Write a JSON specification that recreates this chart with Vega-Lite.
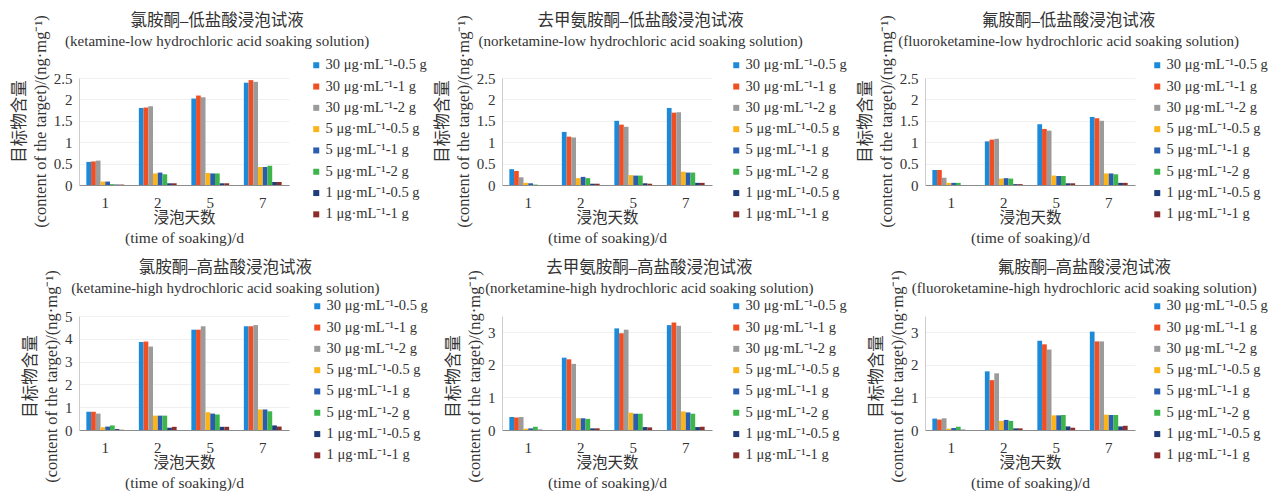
{
  "$schema": "https://vega.github.io/schema/vega-lite/v6.json",
  "background": "white",
  "padding": {"left": 11, "top": 13, "right": 0, "bottom": 0},
  "config": {
    "font": "Liberation Serif, Noto Sans CJK SC",
    "view": {"stroke": null},
    "title": {"font": "Liberation Serif, Noto Sans CJK SC", "fontSize": 16.5, "fontWeight": "normal", "color": "#333333", "subtitleFont": "Liberation Serif, Noto Sans CJK SC", "subtitleFontSize": 15, "subtitleColor": "#333333", "subtitlePadding": 4, "frame": "bounds", "anchor": "middle"},
    "axis": {"labelFont": "Liberation Serif, Noto Sans CJK SC", "labelFontSize": 15, "labelColor": "#333333", "titleFont": "Liberation Serif, Noto Sans CJK SC", "titleFontSize": 15.5, "titleFontWeight": "normal", "titleColor": "#333333", "ticks": false, "gridColor": "#f0f0f0", "titleLineHeight": 20},
    "axisX": {"grid": false, "labelPadding": 10, "titlePadding": 0, "domainColor": "#8c8c8c", "labelAngle": 0},
    "axisY": {"grid": true, "labelPadding": 7, "titlePadding": 5, "domainColor": "#cccccc", "titleFontSize": 16.5, "titleLineHeight": 21},
    "legend": {"symbolType": "square", "symbolSize": 36, "symbolStrokeWidth": 0, "labelFont": "Liberation Serif, Noto Sans CJK SC", "labelFontSize": 14.5, "labelColor": "#333333", "rowPadding": 6.3, "labelOffset": 2, "padding": 0, "title": null, "labelLimit": 200}
  },
  "data": {"values": [
    {"panel":1,"day":"1","series":"30 μg·mL⁻¹-0.5 g","value":0.54},{"panel":1,"day":"1","series":"30 μg·mL⁻¹-1 g","value":0.55},{"panel":1,"day":"1","series":"30 μg·mL⁻¹-2 g","value":0.57},{"panel":1,"day":"1","series":"5 μg·mL⁻¹-0.5 g","value":0.08},{"panel":1,"day":"1","series":"5 μg·mL⁻¹-1 g","value":0.08},{"panel":1,"day":"1","series":"5 μg·mL⁻¹-2 g","value":0.02},{"panel":1,"day":"1","series":"1 μg·mL⁻¹-0.5 g","value":0.01},{"panel":1,"day":"1","series":"1 μg·mL⁻¹-1 g","value":0.01},
    {"panel":1,"day":"2","series":"30 μg·mL⁻¹-0.5 g","value":1.80},{"panel":1,"day":"2","series":"30 μg·mL⁻¹-1 g","value":1.81},{"panel":1,"day":"2","series":"30 μg·mL⁻¹-2 g","value":1.84},{"panel":1,"day":"2","series":"5 μg·mL⁻¹-0.5 g","value":0.27},{"panel":1,"day":"2","series":"5 μg·mL⁻¹-1 g","value":0.29},{"panel":1,"day":"2","series":"5 μg·mL⁻¹-2 g","value":0.25},{"panel":1,"day":"2","series":"1 μg·mL⁻¹-0.5 g","value":0.04},{"panel":1,"day":"2","series":"1 μg·mL⁻¹-1 g","value":0.04},
    {"panel":1,"day":"5","series":"30 μg·mL⁻¹-0.5 g","value":2.02},{"panel":1,"day":"5","series":"30 μg·mL⁻¹-1 g","value":2.09},{"panel":1,"day":"5","series":"30 μg·mL⁻¹-2 g","value":2.05},{"panel":1,"day":"5","series":"5 μg·mL⁻¹-0.5 g","value":0.28},{"panel":1,"day":"5","series":"5 μg·mL⁻¹-1 g","value":0.27},{"panel":1,"day":"5","series":"5 μg·mL⁻¹-2 g","value":0.27},{"panel":1,"day":"5","series":"1 μg·mL⁻¹-0.5 g","value":0.04},{"panel":1,"day":"5","series":"1 μg·mL⁻¹-1 g","value":0.04},
    {"panel":1,"day":"7","series":"30 μg·mL⁻¹-0.5 g","value":2.39},{"panel":1,"day":"7","series":"30 μg·mL⁻¹-1 g","value":2.45},{"panel":1,"day":"7","series":"30 μg·mL⁻¹-2 g","value":2.41},{"panel":1,"day":"7","series":"5 μg·mL⁻¹-0.5 g","value":0.42},{"panel":1,"day":"7","series":"5 μg·mL⁻¹-1 g","value":0.42},{"panel":1,"day":"7","series":"5 μg·mL⁻¹-2 g","value":0.45},{"panel":1,"day":"7","series":"1 μg·mL⁻¹-0.5 g","value":0.07},{"panel":1,"day":"7","series":"1 μg·mL⁻¹-1 g","value":0.07},
    {"panel":2,"day":"1","series":"30 μg·mL⁻¹-0.5 g","value":0.37},{"panel":2,"day":"1","series":"30 μg·mL⁻¹-1 g","value":0.33},{"panel":2,"day":"1","series":"30 μg·mL⁻¹-2 g","value":0.18},{"panel":2,"day":"1","series":"5 μg·mL⁻¹-0.5 g","value":0.05},{"panel":2,"day":"1","series":"5 μg·mL⁻¹-1 g","value":0.04},{"panel":2,"day":"1","series":"5 μg·mL⁻¹-2 g","value":0.01},{"panel":2,"day":"1","series":"1 μg·mL⁻¹-0.5 g","value":0.0},{"panel":2,"day":"1","series":"1 μg·mL⁻¹-1 g","value":0.0},
    {"panel":2,"day":"2","series":"30 μg·mL⁻¹-0.5 g","value":1.24},{"panel":2,"day":"2","series":"30 μg·mL⁻¹-1 g","value":1.13},{"panel":2,"day":"2","series":"30 μg·mL⁻¹-2 g","value":1.11},{"panel":2,"day":"2","series":"5 μg·mL⁻¹-0.5 g","value":0.16},{"panel":2,"day":"2","series":"5 μg·mL⁻¹-1 g","value":0.19},{"panel":2,"day":"2","series":"5 μg·mL⁻¹-2 g","value":0.16},{"panel":2,"day":"2","series":"1 μg·mL⁻¹-0.5 g","value":0.03},{"panel":2,"day":"2","series":"1 μg·mL⁻¹-1 g","value":0.03},
    {"panel":2,"day":"5","series":"30 μg·mL⁻¹-0.5 g","value":1.50},{"panel":2,"day":"5","series":"30 μg·mL⁻¹-1 g","value":1.41},{"panel":2,"day":"5","series":"30 μg·mL⁻¹-2 g","value":1.36},{"panel":2,"day":"5","series":"5 μg·mL⁻¹-0.5 g","value":0.23},{"panel":2,"day":"5","series":"5 μg·mL⁻¹-1 g","value":0.22},{"panel":2,"day":"5","series":"5 μg·mL⁻¹-2 g","value":0.22},{"panel":2,"day":"5","series":"1 μg·mL⁻¹-0.5 g","value":0.04},{"panel":2,"day":"5","series":"1 μg·mL⁻¹-1 g","value":0.03},
    {"panel":2,"day":"7","series":"30 μg·mL⁻¹-0.5 g","value":1.80},{"panel":2,"day":"7","series":"30 μg·mL⁻¹-1 g","value":1.69},{"panel":2,"day":"7","series":"30 μg·mL⁻¹-2 g","value":1.70},{"panel":2,"day":"7","series":"5 μg·mL⁻¹-0.5 g","value":0.31},{"panel":2,"day":"7","series":"5 μg·mL⁻¹-1 g","value":0.29},{"panel":2,"day":"7","series":"5 μg·mL⁻¹-2 g","value":0.29},{"panel":2,"day":"7","series":"1 μg·mL⁻¹-0.5 g","value":0.05},{"panel":2,"day":"7","series":"1 μg·mL⁻¹-1 g","value":0.05},
    {"panel":3,"day":"1","series":"30 μg·mL⁻¹-0.5 g","value":0.35},{"panel":3,"day":"1","series":"30 μg·mL⁻¹-1 g","value":0.35},{"panel":3,"day":"1","series":"30 μg·mL⁻¹-2 g","value":0.17},{"panel":3,"day":"1","series":"5 μg·mL⁻¹-0.5 g","value":0.05},{"panel":3,"day":"1","series":"5 μg·mL⁻¹-1 g","value":0.05},{"panel":3,"day":"1","series":"5 μg·mL⁻¹-2 g","value":0.05},{"panel":3,"day":"1","series":"1 μg·mL⁻¹-0.5 g","value":0.0},{"panel":3,"day":"1","series":"1 μg·mL⁻¹-1 g","value":0.0},
    {"panel":3,"day":"2","series":"30 μg·mL⁻¹-0.5 g","value":1.02},{"panel":3,"day":"2","series":"30 μg·mL⁻¹-1 g","value":1.06},{"panel":3,"day":"2","series":"30 μg·mL⁻¹-2 g","value":1.08},{"panel":3,"day":"2","series":"5 μg·mL⁻¹-0.5 g","value":0.15},{"panel":3,"day":"2","series":"5 μg·mL⁻¹-1 g","value":0.16},{"panel":3,"day":"2","series":"5 μg·mL⁻¹-2 g","value":0.15},{"panel":3,"day":"2","series":"1 μg·mL⁻¹-0.5 g","value":0.02},{"panel":3,"day":"2","series":"1 μg·mL⁻¹-1 g","value":0.02},
    {"panel":3,"day":"5","series":"30 μg·mL⁻¹-0.5 g","value":1.42},{"panel":3,"day":"5","series":"30 μg·mL⁻¹-1 g","value":1.31},{"panel":3,"day":"5","series":"30 μg·mL⁻¹-2 g","value":1.27},{"panel":3,"day":"5","series":"5 μg·mL⁻¹-0.5 g","value":0.22},{"panel":3,"day":"5","series":"5 μg·mL⁻¹-1 g","value":0.21},{"panel":3,"day":"5","series":"5 μg·mL⁻¹-2 g","value":0.21},{"panel":3,"day":"5","series":"1 μg·mL⁻¹-0.5 g","value":0.04},{"panel":3,"day":"5","series":"1 μg·mL⁻¹-1 g","value":0.04},
    {"panel":3,"day":"7","series":"30 μg·mL⁻¹-0.5 g","value":1.59},{"panel":3,"day":"7","series":"30 μg·mL⁻¹-1 g","value":1.56},{"panel":3,"day":"7","series":"30 μg·mL⁻¹-2 g","value":1.50},{"panel":3,"day":"7","series":"5 μg·mL⁻¹-0.5 g","value":0.27},{"panel":3,"day":"7","series":"5 μg·mL⁻¹-1 g","value":0.27},{"panel":3,"day":"7","series":"5 μg·mL⁻¹-2 g","value":0.25},{"panel":3,"day":"7","series":"1 μg·mL⁻¹-0.5 g","value":0.05},{"panel":3,"day":"7","series":"1 μg·mL⁻¹-1 g","value":0.05},
    {"panel":4,"day":"1","series":"30 μg·mL⁻¹-0.5 g","value":0.80},{"panel":4,"day":"1","series":"30 μg·mL⁻¹-1 g","value":0.80},{"panel":4,"day":"1","series":"30 μg·mL⁻¹-2 g","value":0.72},{"panel":4,"day":"1","series":"5 μg·mL⁻¹-0.5 g","value":0.12},{"panel":4,"day":"1","series":"5 μg·mL⁻¹-1 g","value":0.15},{"panel":4,"day":"1","series":"5 μg·mL⁻¹-2 g","value":0.20},{"panel":4,"day":"1","series":"1 μg·mL⁻¹-0.5 g","value":0.04},{"panel":4,"day":"1","series":"1 μg·mL⁻¹-1 g","value":0.01},
    {"panel":4,"day":"2","series":"30 μg·mL⁻¹-0.5 g","value":3.86},{"panel":4,"day":"2","series":"30 μg·mL⁻¹-1 g","value":3.88},{"panel":4,"day":"2","series":"30 μg·mL⁻¹-2 g","value":3.66},{"panel":4,"day":"2","series":"5 μg·mL⁻¹-0.5 g","value":0.63},{"panel":4,"day":"2","series":"5 μg·mL⁻¹-1 g","value":0.63},{"panel":4,"day":"2","series":"5 μg·mL⁻¹-2 g","value":0.63},{"panel":4,"day":"2","series":"1 μg·mL⁻¹-0.5 g","value":0.10},{"panel":4,"day":"2","series":"1 μg·mL⁻¹-1 g","value":0.14},
    {"panel":4,"day":"5","series":"30 μg·mL⁻¹-0.5 g","value":4.40},{"panel":4,"day":"5","series":"30 μg·mL⁻¹-1 g","value":4.40},{"panel":4,"day":"5","series":"30 μg·mL⁻¹-2 g","value":4.55},{"panel":4,"day":"5","series":"5 μg·mL⁻¹-0.5 g","value":0.78},{"panel":4,"day":"5","series":"5 μg·mL⁻¹-1 g","value":0.72},{"panel":4,"day":"5","series":"5 μg·mL⁻¹-2 g","value":0.68},{"panel":4,"day":"5","series":"1 μg·mL⁻¹-0.5 g","value":0.14},{"panel":4,"day":"5","series":"1 μg·mL⁻¹-1 g","value":0.14},
    {"panel":4,"day":"7","series":"30 μg·mL⁻¹-0.5 g","value":4.55},{"panel":4,"day":"7","series":"30 μg·mL⁻¹-1 g","value":4.55},{"panel":4,"day":"7","series":"30 μg·mL⁻¹-2 g","value":4.60},{"panel":4,"day":"7","series":"5 μg·mL⁻¹-0.5 g","value":0.90},{"panel":4,"day":"7","series":"5 μg·mL⁻¹-1 g","value":0.90},{"panel":4,"day":"7","series":"5 μg·mL⁻¹-2 g","value":0.82},{"panel":4,"day":"7","series":"1 μg·mL⁻¹-0.5 g","value":0.20},{"panel":4,"day":"7","series":"1 μg·mL⁻¹-1 g","value":0.15},
    {"panel":5,"day":"1","series":"30 μg·mL⁻¹-0.5 g","value":0.40},{"panel":5,"day":"1","series":"30 μg·mL⁻¹-1 g","value":0.38},{"panel":5,"day":"1","series":"30 μg·mL⁻¹-2 g","value":0.40},{"panel":5,"day":"1","series":"5 μg·mL⁻¹-0.5 g","value":0.04},{"panel":5,"day":"1","series":"5 μg·mL⁻¹-1 g","value":0.05},{"panel":5,"day":"1","series":"5 μg·mL⁻¹-2 g","value":0.10},{"panel":5,"day":"1","series":"1 μg·mL⁻¹-0.5 g","value":0.01},{"panel":5,"day":"1","series":"1 μg·mL⁻¹-1 g","value":0.0},
    {"panel":5,"day":"2","series":"30 μg·mL⁻¹-0.5 g","value":2.22},{"panel":5,"day":"2","series":"30 μg·mL⁻¹-1 g","value":2.17},{"panel":5,"day":"2","series":"30 μg·mL⁻¹-2 g","value":2.03},{"panel":5,"day":"2","series":"5 μg·mL⁻¹-0.5 g","value":0.36},{"panel":5,"day":"2","series":"5 μg·mL⁻¹-1 g","value":0.36},{"panel":5,"day":"2","series":"5 μg·mL⁻¹-2 g","value":0.34},{"panel":5,"day":"2","series":"1 μg·mL⁻¹-0.5 g","value":0.05},{"panel":5,"day":"2","series":"1 μg·mL⁻¹-1 g","value":0.05},
    {"panel":5,"day":"5","series":"30 μg·mL⁻¹-0.5 g","value":3.12},{"panel":5,"day":"5","series":"30 μg·mL⁻¹-1 g","value":2.97},{"panel":5,"day":"5","series":"30 μg·mL⁻¹-2 g","value":3.08},{"panel":5,"day":"5","series":"5 μg·mL⁻¹-0.5 g","value":0.53},{"panel":5,"day":"5","series":"5 μg·mL⁻¹-1 g","value":0.50},{"panel":5,"day":"5","series":"5 μg·mL⁻¹-2 g","value":0.50},{"panel":5,"day":"5","series":"1 μg·mL⁻¹-0.5 g","value":0.09},{"panel":5,"day":"5","series":"1 μg·mL⁻¹-1 g","value":0.08},
    {"panel":5,"day":"7","series":"30 μg·mL⁻¹-0.5 g","value":3.22},{"panel":5,"day":"7","series":"30 μg·mL⁻¹-1 g","value":3.30},{"panel":5,"day":"7","series":"30 μg·mL⁻¹-2 g","value":3.20},{"panel":5,"day":"7","series":"5 μg·mL⁻¹-0.5 g","value":0.57},{"panel":5,"day":"7","series":"5 μg·mL⁻¹-1 g","value":0.54},{"panel":5,"day":"7","series":"5 μg·mL⁻¹-2 g","value":0.50},{"panel":5,"day":"7","series":"1 μg·mL⁻¹-0.5 g","value":0.09},{"panel":5,"day":"7","series":"1 μg·mL⁻¹-1 g","value":0.10},
    {"panel":6,"day":"1","series":"30 μg·mL⁻¹-0.5 g","value":0.35},{"panel":6,"day":"1","series":"30 μg·mL⁻¹-1 g","value":0.32},{"panel":6,"day":"1","series":"30 μg·mL⁻¹-2 g","value":0.36},{"panel":6,"day":"1","series":"5 μg·mL⁻¹-0.5 g","value":0.04},{"panel":6,"day":"1","series":"5 μg·mL⁻¹-1 g","value":0.06},{"panel":6,"day":"1","series":"5 μg·mL⁻¹-2 g","value":0.10},{"panel":6,"day":"1","series":"1 μg·mL⁻¹-0.5 g","value":0.01},{"panel":6,"day":"1","series":"1 μg·mL⁻¹-1 g","value":0.0},
    {"panel":6,"day":"2","series":"30 μg·mL⁻¹-0.5 g","value":1.80},{"panel":6,"day":"2","series":"30 μg·mL⁻¹-1 g","value":1.53},{"panel":6,"day":"2","series":"30 μg·mL⁻¹-2 g","value":1.74},{"panel":6,"day":"2","series":"5 μg·mL⁻¹-0.5 g","value":0.28},{"panel":6,"day":"2","series":"5 μg·mL⁻¹-1 g","value":0.31},{"panel":6,"day":"2","series":"5 μg·mL⁻¹-2 g","value":0.28},{"panel":6,"day":"2","series":"1 μg·mL⁻¹-0.5 g","value":0.05},{"panel":6,"day":"2","series":"1 μg·mL⁻¹-1 g","value":0.05},
    {"panel":6,"day":"5","series":"30 μg·mL⁻¹-0.5 g","value":2.74},{"panel":6,"day":"5","series":"30 μg·mL⁻¹-1 g","value":2.63},{"panel":6,"day":"5","series":"30 μg·mL⁻¹-2 g","value":2.47},{"panel":6,"day":"5","series":"5 μg·mL⁻¹-0.5 g","value":0.45},{"panel":6,"day":"5","series":"5 μg·mL⁻¹-1 g","value":0.45},{"panel":6,"day":"5","series":"5 μg·mL⁻¹-2 g","value":0.46},{"panel":6,"day":"5","series":"1 μg·mL⁻¹-0.5 g","value":0.11},{"panel":6,"day":"5","series":"1 μg·mL⁻¹-1 g","value":0.07},
    {"panel":6,"day":"7","series":"30 μg·mL⁻¹-0.5 g","value":3.02},{"panel":6,"day":"7","series":"30 μg·mL⁻¹-1 g","value":2.72},{"panel":6,"day":"7","series":"30 μg·mL⁻¹-2 g","value":2.72},{"panel":6,"day":"7","series":"5 μg·mL⁻¹-0.5 g","value":0.47},{"panel":6,"day":"7","series":"5 μg·mL⁻¹-1 g","value":0.46},{"panel":6,"day":"7","series":"5 μg·mL⁻¹-2 g","value":0.46},{"panel":6,"day":"7","series":"1 μg·mL⁻¹-0.5 g","value":0.11},{"panel":6,"day":"7","series":"1 μg·mL⁻¹-1 g","value":0.13}
  ]},
  "columns": 3,
  "bounds": "flush",
  "spacing": {"row": 131, "column": 213},
  "resolve": {"scale": {"color": "independent", "x": "independent", "y": "independent", "xOffset": "independent"}, "legend": {"color": "independent"}, "axis": {"x": "independent", "y": "independent"}},
  "concat": [
    {
      "width": 210, "height": 107,
      "title": {"text": "氯胺酮–低盐酸浸泡试液", "subtitle": "(ketamine-low hydrochloric acid soaking solution)", "offset": -34, "dx": -2},
      "transform": [{"filter": "datum.panel == 1"}],
      "mark": {"type": "bar"},
      "encoding": {
        "x": {"field": "day", "type": "ordinal", "sort": ["1","2","5","7"], "scale": {"paddingInner": 0.28, "paddingOuter": 0.14}, "title": ["浸泡天数", "(time of soaking)/d"]},
        "xOffset": {"field": "series", "type": "nominal", "sort": ["30 μg·mL⁻¹-0.5 g","30 μg·mL⁻¹-1 g","30 μg·mL⁻¹-2 g","5 μg·mL⁻¹-0.5 g","5 μg·mL⁻¹-1 g","5 μg·mL⁻¹-2 g","1 μg·mL⁻¹-0.5 g","1 μg·mL⁻¹-1 g"], "scale": {"paddingInner": 0, "paddingOuter": 0}},
        "y": {"field": "value", "type": "quantitative", "scale": {"domain": [0, 2.5], "nice": false}, "axis": {"values": [0, 0.5, 1, 1.5, 2, 2.5], "format": "~g", "titleY": 43}, "title": ["目标物含量", "(content of the target)/(ng·mg⁻¹)"]},
        "color": {"field": "series", "type": "nominal", "sort": ["30 μg·mL⁻¹-0.5 g","30 μg·mL⁻¹-1 g","30 μg·mL⁻¹-2 g","5 μg·mL⁻¹-0.5 g","5 μg·mL⁻¹-1 g","5 μg·mL⁻¹-2 g","1 μg·mL⁻¹-0.5 g","1 μg·mL⁻¹-1 g"], "scale": {"domain": ["30 μg·mL⁻¹-0.5 g","30 μg·mL⁻¹-1 g","30 μg·mL⁻¹-2 g","5 μg·mL⁻¹-0.5 g","5 μg·mL⁻¹-1 g","5 μg·mL⁻¹-2 g","1 μg·mL⁻¹-0.5 g","1 μg·mL⁻¹-1 g"], "range": ["#1c8ad8","#f04e23","#9b9b9b","#fbb41a","#2a5db0","#3cb54a","#1f3d7a","#8b2d2a"]}, "legend": {"orient": "none", "legendX": 230, "legendY": -20}}
      }
    },
    {
      "width": 210, "height": 107,
      "title": {"text": "去甲氨胺酮–低盐酸浸泡试液", "subtitle": "(norketamine-low hydrochloric acid soaking solution)", "offset": -34},
      "transform": [{"filter": "datum.panel == 2"}],
      "mark": {"type": "bar"},
      "encoding": {
        "x": {"field": "day", "type": "ordinal", "sort": ["1","2","5","7"], "scale": {"paddingInner": 0.28, "paddingOuter": 0.14}, "title": ["浸泡天数", "(time of soaking)/d"]},
        "xOffset": {"field": "series", "type": "nominal", "sort": ["30 μg·mL⁻¹-0.5 g","30 μg·mL⁻¹-1 g","30 μg·mL⁻¹-2 g","5 μg·mL⁻¹-0.5 g","5 μg·mL⁻¹-1 g","5 μg·mL⁻¹-2 g","1 μg·mL⁻¹-0.5 g","1 μg·mL⁻¹-1 g"], "scale": {"paddingInner": 0, "paddingOuter": 0}},
        "y": {"field": "value", "type": "quantitative", "scale": {"domain": [0, 2.5], "nice": false}, "axis": {"values": [0, 0.5, 1, 1.5, 2, 2.5], "format": "~g", "titleY": 43}, "title": ["目标物含量", "(content of the target)/(ng·mg⁻¹)"]},
        "color": {"field": "series", "type": "nominal", "sort": ["30 μg·mL⁻¹-0.5 g","30 μg·mL⁻¹-1 g","30 μg·mL⁻¹-2 g","5 μg·mL⁻¹-0.5 g","5 μg·mL⁻¹-1 g","5 μg·mL⁻¹-2 g","1 μg·mL⁻¹-0.5 g","1 μg·mL⁻¹-1 g"], "scale": {"domain": ["30 μg·mL⁻¹-0.5 g","30 μg·mL⁻¹-1 g","30 μg·mL⁻¹-2 g","5 μg·mL⁻¹-0.5 g","5 μg·mL⁻¹-1 g","5 μg·mL⁻¹-2 g","1 μg·mL⁻¹-0.5 g","1 μg·mL⁻¹-1 g"], "range": ["#1c8ad8","#f04e23","#9b9b9b","#fbb41a","#2a5db0","#3cb54a","#1f3d7a","#8b2d2a"]}, "legend": {"orient": "none", "legendX": 227, "legendY": -20}}
      }
    },
    {
      "width": 210, "height": 107,
      "title": {"text": "氟胺酮–低盐酸浸泡试液", "subtitle": "(fluoroketamine-low hydrochloric acid soaking solution)", "offset": -34, "dx": 6},
      "transform": [{"filter": "datum.panel == 3"}],
      "mark": {"type": "bar"},
      "encoding": {
        "x": {"field": "day", "type": "ordinal", "sort": ["1","2","5","7"], "scale": {"paddingInner": 0.28, "paddingOuter": 0.14}, "title": ["浸泡天数", "(time of soaking)/d"]},
        "xOffset": {"field": "series", "type": "nominal", "sort": ["30 μg·mL⁻¹-0.5 g","30 μg·mL⁻¹-1 g","30 μg·mL⁻¹-2 g","5 μg·mL⁻¹-0.5 g","5 μg·mL⁻¹-1 g","5 μg·mL⁻¹-2 g","1 μg·mL⁻¹-0.5 g","1 μg·mL⁻¹-1 g"], "scale": {"paddingInner": 0, "paddingOuter": 0}},
        "y": {"field": "value", "type": "quantitative", "scale": {"domain": [0, 2.5], "nice": false}, "axis": {"values": [0, 0.5, 1, 1.5, 2, 2.5], "format": "~g", "titleY": 43}, "title": ["目标物含量", "(content of the target)/(ng·mg⁻¹)"]},
        "color": {"field": "series", "type": "nominal", "sort": ["30 μg·mL⁻¹-0.5 g","30 μg·mL⁻¹-1 g","30 μg·mL⁻¹-2 g","5 μg·mL⁻¹-0.5 g","5 μg·mL⁻¹-1 g","5 μg·mL⁻¹-2 g","1 μg·mL⁻¹-0.5 g","1 μg·mL⁻¹-1 g"], "scale": {"domain": ["30 μg·mL⁻¹-0.5 g","30 μg·mL⁻¹-1 g","30 μg·mL⁻¹-2 g","5 μg·mL⁻¹-0.5 g","5 μg·mL⁻¹-1 g","5 μg·mL⁻¹-2 g","1 μg·mL⁻¹-0.5 g","1 μg·mL⁻¹-1 g"], "range": ["#1c8ad8","#f04e23","#9b9b9b","#fbb41a","#2a5db0","#3cb54a","#1f3d7a","#8b2d2a"]}, "legend": {"orient": "none", "legendX": 225, "legendY": -20}}
      }
    },
    {
      "width": 210, "height": 114,
      "title": {"text": "氯胺酮–高盐酸浸泡试液", "subtitle": "(ketamine-high hydrochloric acid soaking solution)", "offset": -26},
      "transform": [{"filter": "datum.panel == 4"}],
      "mark": {"type": "bar"},
      "encoding": {
        "x": {"field": "day", "type": "ordinal", "sort": ["1","2","5","7"], "scale": {"paddingInner": 0.28, "paddingOuter": 0.14}, "title": ["浸泡天数", "(time of soaking)/d"]},
        "xOffset": {"field": "series", "type": "nominal", "sort": ["30 μg·mL⁻¹-0.5 g","30 μg·mL⁻¹-1 g","30 μg·mL⁻¹-2 g","5 μg·mL⁻¹-0.5 g","5 μg·mL⁻¹-1 g","5 μg·mL⁻¹-2 g","1 μg·mL⁻¹-0.5 g","1 μg·mL⁻¹-1 g"], "scale": {"paddingInner": 0, "paddingOuter": 0}},
        "y": {"field": "value", "type": "quantitative", "scale": {"domain": [0, 5], "nice": false}, "axis": {"values": [0, 1, 2, 3, 4, 5], "format": "~g", "titleY": 60}, "title": ["目标物含量", "(content of the target)/(ng·mg⁻¹)"]},
        "color": {"field": "series", "type": "nominal", "sort": ["30 μg·mL⁻¹-0.5 g","30 μg·mL⁻¹-1 g","30 μg·mL⁻¹-2 g","5 μg·mL⁻¹-0.5 g","5 μg·mL⁻¹-1 g","5 μg·mL⁻¹-2 g","1 μg·mL⁻¹-0.5 g","1 μg·mL⁻¹-1 g"], "scale": {"domain": ["30 μg·mL⁻¹-0.5 g","30 μg·mL⁻¹-1 g","30 μg·mL⁻¹-2 g","5 μg·mL⁻¹-0.5 g","5 μg·mL⁻¹-1 g","5 μg·mL⁻¹-2 g","1 μg·mL⁻¹-0.5 g","1 μg·mL⁻¹-1 g"], "range": ["#1c8ad8","#f04e23","#9b9b9b","#fbb41a","#2a5db0","#3cb54a","#1f3d7a","#8b2d2a"]}, "legend": {"orient": "none", "legendX": 231, "legendY": -17}}
      }
    },
    {
      "width": 210, "height": 114,
      "title": {"text": "去甲氨胺酮–高盐酸浸泡试液", "subtitle": "(norketamine-high hydrochloric acid soaking solution)", "offset": -26, "dx": 3},
      "transform": [{"filter": "datum.panel == 5"}],
      "mark": {"type": "bar"},
      "encoding": {
        "x": {"field": "day", "type": "ordinal", "sort": ["1","2","5","7"], "scale": {"paddingInner": 0.28, "paddingOuter": 0.14}, "title": ["浸泡天数", "(time of soaking)/d"]},
        "xOffset": {"field": "series", "type": "nominal", "sort": ["30 μg·mL⁻¹-0.5 g","30 μg·mL⁻¹-1 g","30 μg·mL⁻¹-2 g","5 μg·mL⁻¹-0.5 g","5 μg·mL⁻¹-1 g","5 μg·mL⁻¹-2 g","1 μg·mL⁻¹-0.5 g","1 μg·mL⁻¹-1 g"], "scale": {"paddingInner": 0, "paddingOuter": 0}},
        "y": {"field": "value", "type": "quantitative", "scale": {"domain": [0, 3.5], "nice": false}, "axis": {"values": [0, 1, 2, 3], "format": "~g", "titleY": 60}, "title": ["目标物含量", "(content of the target)/(ng·mg⁻¹)"]},
        "color": {"field": "series", "type": "nominal", "sort": ["30 μg·mL⁻¹-0.5 g","30 μg·mL⁻¹-1 g","30 μg·mL⁻¹-2 g","5 μg·mL⁻¹-0.5 g","5 μg·mL⁻¹-1 g","5 μg·mL⁻¹-2 g","1 μg·mL⁻¹-0.5 g","1 μg·mL⁻¹-1 g"], "scale": {"domain": ["30 μg·mL⁻¹-0.5 g","30 μg·mL⁻¹-1 g","30 μg·mL⁻¹-2 g","5 μg·mL⁻¹-0.5 g","5 μg·mL⁻¹-1 g","5 μg·mL⁻¹-2 g","1 μg·mL⁻¹-0.5 g","1 μg·mL⁻¹-1 g"], "range": ["#1c8ad8","#f04e23","#9b9b9b","#fbb41a","#2a5db0","#3cb54a","#1f3d7a","#8b2d2a"]}, "legend": {"orient": "none", "legendX": 227, "legendY": -17}}
      }
    },
    {
      "width": 210, "height": 114,
      "title": {"text": "氟胺酮–高盐酸浸泡试液", "subtitle": "(fluoroketamine-high hydrochloric acid soaking solution)", "offset": -26, "dx": 16},
      "transform": [{"filter": "datum.panel == 6"}],
      "mark": {"type": "bar"},
      "encoding": {
        "x": {"field": "day", "type": "ordinal", "sort": ["1","2","5","7"], "scale": {"paddingInner": 0.28, "paddingOuter": 0.14}, "title": ["浸泡天数", "(time of soaking)/d"]},
        "xOffset": {"field": "series", "type": "nominal", "sort": ["30 μg·mL⁻¹-0.5 g","30 μg·mL⁻¹-1 g","30 μg·mL⁻¹-2 g","5 μg·mL⁻¹-0.5 g","5 μg·mL⁻¹-1 g","5 μg·mL⁻¹-2 g","1 μg·mL⁻¹-0.5 g","1 μg·mL⁻¹-1 g"], "scale": {"paddingInner": 0, "paddingOuter": 0}},
        "y": {"field": "value", "type": "quantitative", "scale": {"domain": [0, 3.5], "nice": false}, "axis": {"values": [0, 1, 2, 3], "format": "~g", "titleY": 60}, "title": ["目标物含量", "(content of the target)/(ng·mg⁻¹)"]},
        "color": {"field": "series", "type": "nominal", "sort": ["30 μg·mL⁻¹-0.5 g","30 μg·mL⁻¹-1 g","30 μg·mL⁻¹-2 g","5 μg·mL⁻¹-0.5 g","5 μg·mL⁻¹-1 g","5 μg·mL⁻¹-2 g","1 μg·mL⁻¹-0.5 g","1 μg·mL⁻¹-1 g"], "scale": {"domain": ["30 μg·mL⁻¹-0.5 g","30 μg·mL⁻¹-1 g","30 μg·mL⁻¹-2 g","5 μg·mL⁻¹-0.5 g","5 μg·mL⁻¹-1 g","5 μg·mL⁻¹-2 g","1 μg·mL⁻¹-0.5 g","1 μg·mL⁻¹-1 g"], "range": ["#1c8ad8","#f04e23","#9b9b9b","#fbb41a","#2a5db0","#3cb54a","#1f3d7a","#8b2d2a"]}, "legend": {"orient": "none", "legendX": 225, "legendY": -17}}
      }
    }
  ]
}
